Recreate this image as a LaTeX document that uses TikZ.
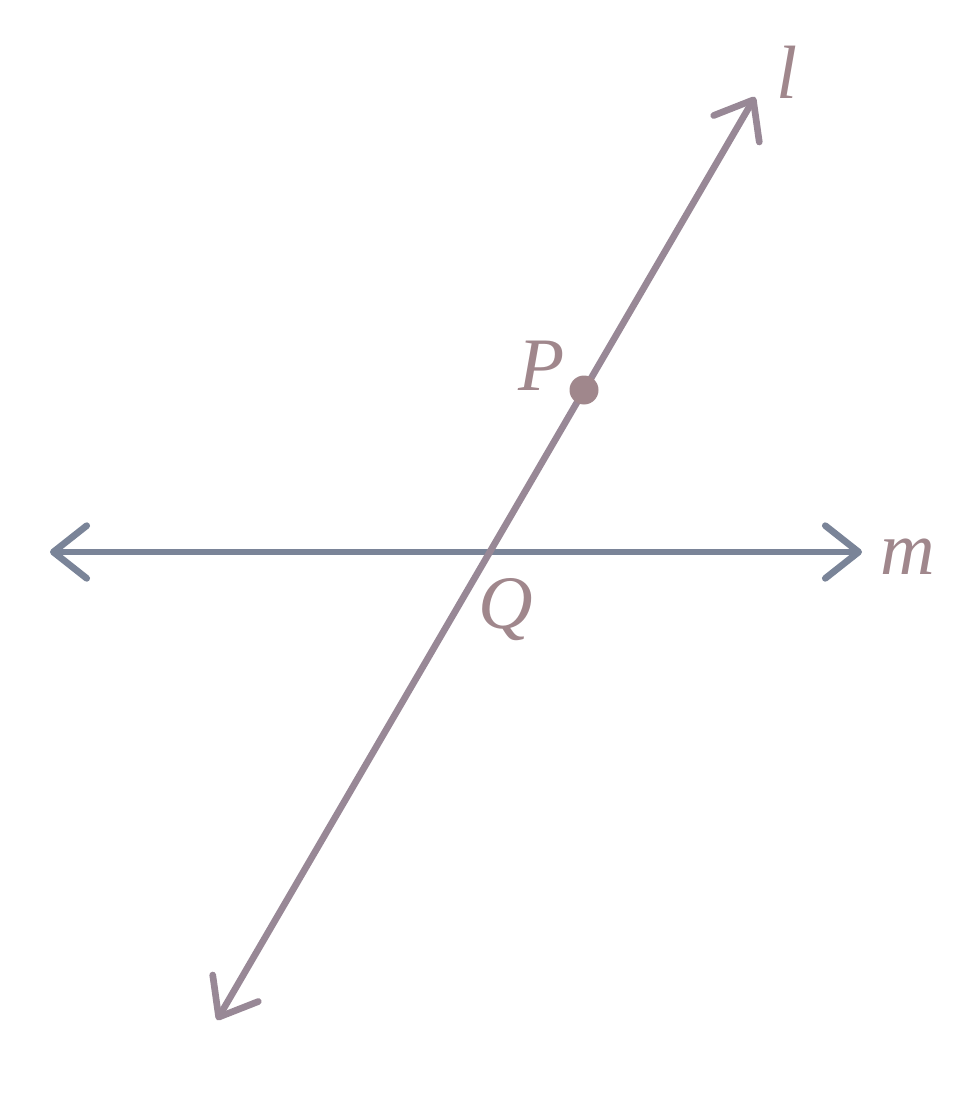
\documentclass[tikz,border=0pt]{standalone}
\usepackage{fontspec}
\setmainfont{Liberation Serif}
\usetikzlibrary{arrows.meta}
\definecolor{lineL}{HTML}{988896}
\definecolor{lineM}{HTML}{7A8498}
\definecolor{labelC}{HTML}{A0878C}
\tikzset{
  lineof/.style={line width=3.8pt, line cap=round, {Straight Barb[length=19pt,width=30pt,round]}-{Straight Barb[length=19pt,width=30pt,round]}},
  lbl/.style={text=labelC, font=\fontsize{43}{50}\selectfont\itshape, inner sep=0pt},
}
\begin{document}
\begin{tikzpicture}[x=0.02cm,y=-0.02cm]
\useasboundingbox (0,0) rectangle (976,1095);
% ends of the two lines
\coordinate (l1) at (217,1020);
\coordinate (l2) at (755,97);
\coordinate (m1) at (50,552);
\coordinate (m2) at (862,552);
\draw[lineof, lineM] (m1) -- (m2);
\draw[lineof, lineL] (l1) -- (l2);
\node[circle, fill=labelC, minimum size=0.58cm, inner sep=0pt] (P) at (584,390) {};
\node[lbl] (lab_l) at (787,72) {l};
\node[lbl] (lab_m) at (908,557) {m};
\node[lbl] (lab_P) at (542,366) {P};
\node[lbl] (lab_Q) at (506,610) {Q};
\end{tikzpicture}
\end{document}
